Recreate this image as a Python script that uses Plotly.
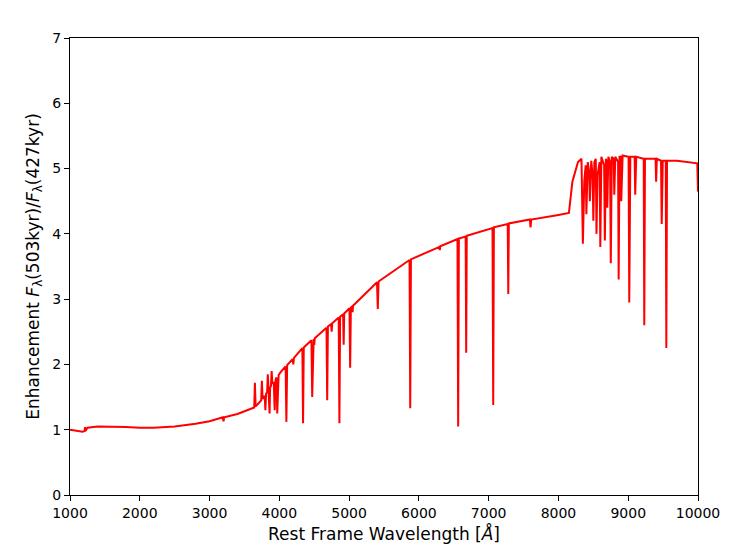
import plotly.graph_objects as go

# spectrum points (wavelength in Angstrom, enhancement ratio)
wavelength = [
    1000, 1100, 1180, 1210, 1216, 1222, 1250, 1400, 1600, 1800, 2000, 2200, 2500, 2800, 3000,
    3190, 3200, 3210, 3400, 3600, 3640, 3650, 3660, 3690, 3700, 3710, 3740, 3750, 3760,
    3790, 3800, 3810, 3825, 3835, 3845, 3852, 3860, 3868, 3880, 3890, 3900, 3920, 3933, 3945,
    3960, 3970, 3980, 3990, 4000, 4010, 4090, 4101, 4112, 4190, 4200, 4210, 4330, 4340, 4350,
    4460, 4471, 4482, 4492, 4500, 4508, 4676, 4686, 4696, 4742, 4750, 4758, 4851, 4861, 4871,
    4914, 4922, 4930, 5005, 5015, 5025, 5044, 5050, 5056, 5400, 5411, 5422, 5866, 5876, 5886,
    6294, 6300, 6306, 6553, 6563, 6573, 6670, 6678, 6686, 7055, 7065, 7075, 7273, 7281, 7289,
    7590, 7600, 7610, 8000, 8150, 8200, 8280, 8330, 8350, 8370, 8390, 8400, 8420, 8440, 8450,
    8470, 8490, 8500, 8515, 8535, 8545, 8560, 8590, 8600, 8615, 8655, 8665, 8680, 8692, 8700,
    8715, 8740, 8750, 8765, 8792, 8800, 8815, 8855, 8863, 8875, 8892, 8900, 8920, 9005, 9015,
    9030, 9092, 9100, 9115, 9222, 9230, 9240, 9392, 9400, 9410, 9470, 9480, 9495, 9538, 9546,
    9556, 9700, 9850, 9990, 10000,
]
enhancement = [
    1.00, 0.98, 0.97, 0.98, 1.04, 0.98, 1.03, 1.05, 1.05, 1.04, 1.03, 1.03, 1.05, 1.09, 1.13,
    1.19, 1.13, 1.19, 1.24, 1.32, 1.34, 1.72, 1.36, 1.39, 1.40, 1.42, 1.45, 1.75, 1.47,
    1.52, 1.30, 1.55, 1.58, 1.85, 1.60, 1.62, 1.25, 1.64, 1.67, 1.90, 1.70, 1.73, 1.30, 1.76,
    1.80, 1.25, 1.82, 1.84, 1.85, 1.87, 1.97, 1.12, 1.99, 2.08, 2.00, 2.10, 2.25, 1.10, 2.26,
    2.37, 1.50, 2.38, 2.39, 2.30, 2.40, 2.56, 1.45, 2.58, 2.62, 2.50, 2.63, 2.72, 1.10, 2.73,
    2.77, 2.30, 2.78, 2.86, 1.95, 2.87, 2.89, 2.80, 2.90, 3.26, 2.85, 3.27, 3.60, 1.33, 3.61,
    3.80, 3.75, 3.81, 3.92, 1.05, 3.93, 3.96, 2.18, 3.97, 4.09, 1.38, 4.10, 4.15, 3.08, 4.16,
    4.22, 4.10, 4.22, 4.29, 4.32, 4.80, 5.10, 5.15, 3.85, 4.80, 5.05, 4.30, 5.10, 4.95, 4.50,
    5.12, 4.90, 4.20, 5.10, 5.15, 4.00, 4.90, 5.10, 3.80, 5.18, 5.05, 3.90, 5.15, 5.10, 4.40,
    5.18, 5.10, 3.55, 5.18, 5.15, 4.60, 5.18, 5.10, 3.30, 5.18, 5.18, 4.50, 5.20, 5.18, 2.95,
    5.18, 5.18, 4.60, 5.18, 5.15, 2.60, 5.15, 5.15, 4.80, 5.15, 5.12, 4.15, 5.12, 5.12, 2.25,
    5.12, 5.12, 5.10, 5.08, 4.65,
]

fig = go.Figure(go.Scatter(
    x=wavelength, y=enhancement, mode="lines",
    line=dict(color="red", width=2), showlegend=False,
))

axis_style = dict(
    showgrid=False, zeroline=False, showline=True, mirror=True,
    linecolor="black", linewidth=1, ticks="outside", ticklen=5,
    tickcolor="black", tickfont=dict(size=14, color="black"),
    automargin=False, tickformat="d",
)
fig.update_layout(
    width=748, height=560,
    margin=dict(l=62, r=58, t=30, b=73),
    paper_bgcolor="white", plot_bgcolor="white",
    font=dict(family="DejaVu Sans", size=14, color="black"),
    xaxis=dict(range=[1000, 10000], dtick=1000,
               title=dict(text="Rest Frame Wavelength [<i>Å</i>]", standoff=8), **axis_style),
    yaxis=dict(range=[0, 7], dtick=1,
               title=dict(text="Enhancement <i>F</i><sub>λ</sub>(503kyr)/<i>F</i><sub>λ</sub>(427kyr)",
                          standoff=8), **axis_style),
)
fig.write_html("out.html")
